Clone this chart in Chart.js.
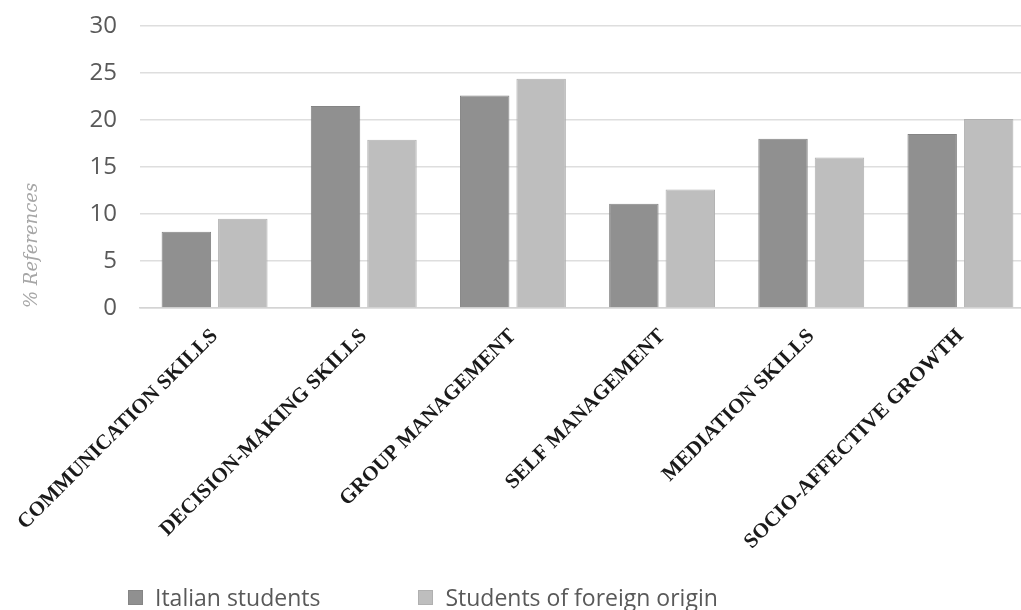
<!DOCTYPE html>
<html>
<head>
<meta charset="utf-8">
<script src="https://cdn.jsdelivr.net/npm/chart.js@4.4.0/dist/chart.umd.min.js"></script>
<style>
  body { margin: 0; overflow: hidden; background: #fff; }
  #wrap { position: relative; width: 1040px; height: 610px; }
  #legend { position: absolute; left: 128px; top: 583px; height: 28px; display: flex; align-items: center;
            font-family: "Open Sans", sans-serif; font-size: 23px; color: #595959; }
  #legend .item { display: flex; align-items: center; margin-right: 98px; }
  #legend .box { width: 15px; height: 15px; margin-right: 12px; box-sizing: border-box; }
</style>
</head>
<body>
<div id="wrap">
  <canvas id="myChart" width="1040" height="610"></canvas>
  <div id="legend"></div>
</div>
<script>
const ctx = document.getElementById('myChart');

// categories + values (% references)
var categories = ['COMMUNICATION SKILLS', 'DECISION-MAKING SKILLS', 'GROUP MANAGEMENT',
                  'SELF MANAGEMENT', 'MEDIATION SKILLS', 'SOCIO-AFFECTIVE GROWTH']
var italianStudents = [8.1, 21.5, 22.6, 11.1, 18.0, 18.5]
var foreignStudents = [9.5, 17.9, 24.4, 12.6, 16.0, 20.1]
var seriesNames = ['Italian students', 'Students of foreign origin']
var yTicks = [0, 5, 10, 15, 20, 25, 30]

let chart = new Chart(ctx, {
  type: 'bar',
  data: {
    labels: categories,
    datasets: [{
      label: seriesNames[0],
      data: italianStudents,
      backgroundColor: '#909090',
      borderColor: '#858585',
      borderWidth: 1
    }, {
      label: seriesNames[1],
      data: foreignStudents,
      backgroundColor: '#bebebe',
      borderColor: '#b0b0b0',
      borderWidth: 1
    }]
  },
  options: {
    responsive: false,
    animation: false,
    categoryPercentage: 0.757,
    barPercentage: 0.876,
    layout: {
      padding: { top: 26, left: 14, right: 5, bottom: 52 }
    },
    plugins: {
      legend: { display: false },
      tooltip: { enabled: false }
    },
    scales: {
      x: {
        grid: { display: false },
        border: { display: true, color: '#d4d4d4', width: 1.5 },
        ticks: {
          autoSkip: false,
          maxRotation: 45,
          minRotation: 45,
          padding: 8,
          color: '#1a1a1a',
          font: { family: '"Liberation Serif", "Times New Roman", serif', size: 21, weight: 'bold' }
        },
        afterFit: function(scale) { scale.height = 250 }
      },
      y: {
        min: 0,
        max: 30,
        border: { display: false },
        // invisible tick marks give the gap between labels and grid
        grid: { color: '#dedede', lineWidth: 1.5, drawTicks: true, tickLength: 23, tickColor: 'rgba(0,0,0,0)' },
        afterBuildTicks: function(scale) { scale.ticks = yTicks.map(v => ({ value: v })) },
        ticks: {
          padding: 0,
          color: '#595959',
          font: { family: '"Open Sans", sans-serif', size: 24 }
        },
        title: {
          display: true,
          text: '% References',
          align: 'start',
          color: '#a6a6a6',
          padding: { top: 8, bottom: 0 },
          font: { family: '"DejaVu Serif", serif', size: 18, style: 'italic' }
        },
        afterFit: function(scale) { scale.width = 126 }
      }
    }
  }
});

// legend as html, boxes/colours taken from the chart itself
let legendEl = document.getElementById('legend')
let items = Chart.defaults.plugins.legend.labels.generateLabels(chart)
items.forEach(function(it) {
  let li = document.createElement('div')
  li.className = 'item'
  let box = document.createElement('span')
  box.className = 'box'
  box.style.background = it.fillStyle
  box.style.border = '1px solid ' + it.strokeStyle
  let txt = document.createElement('span')
  txt.textContent = it.text
  li.appendChild(box)
  li.appendChild(txt)
  legendEl.appendChild(li)
})
</script>
</body>
</html>
